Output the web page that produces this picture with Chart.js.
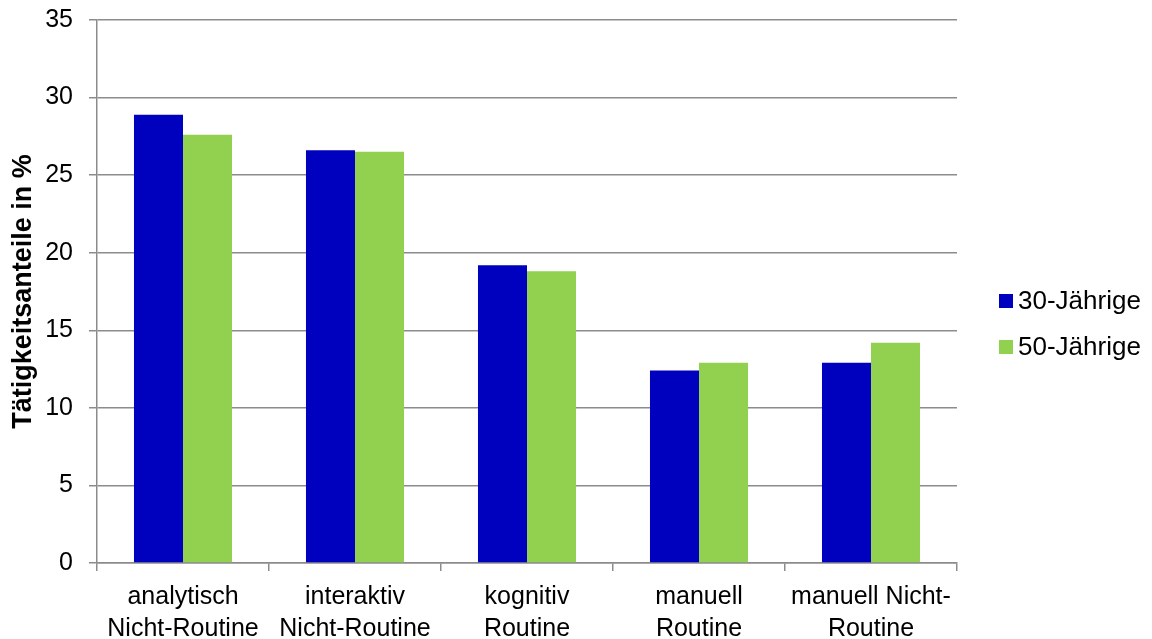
<!DOCTYPE html>
<html>
<head>
<meta charset="utf-8">
<script src="https://cdn.jsdelivr.net/npm/chart.js@4.4.0/dist/chart.umd.min.js"></script>
<style>
html,body{margin:0;padding:0;background:#fff;}
#wrap{width:1152px;height:639px;position:relative;}
</style>
</head>
<body>
<div id="wrap"><canvas id="c" width="1152" height="639"></canvas></div>
<script>
const categories = [
  ["analytisch", "Nicht-Routine"],
  ["interaktiv", "Nicht-Routine"],
  ["kognitiv", "Routine"],
  ["manuell", "Routine"],
  ["manuell Nicht-", "Routine"]
];
const seriesNames = ["30-Jährige", "50-Jährige"];
const values30 = [28.9, 26.6, 19.2, 12.4, 12.9];
const values50 = [27.6, 26.5, 18.8, 12.9, 14.2];
const yTicks = [0, 5, 10, 15, 20, 25, 30, 35];
const colors = ["#0000BF", "#92D050"];

const FONT = "'Liberation Sans', Arial, sans-serif";

const legendPlugin = {
  id: 'customLegend',
  afterDraw(chart) {
    const ctx = chart.ctx;
    ctx.save();
    ctx.font = "26px " + FONT;
    ctx.textBaseline = 'middle';
    chart.data.datasets.forEach((ds, i) => {
      const y = 301 + i * 46;
      ctx.fillStyle = ds.backgroundColor;
      ctx.fillRect(999, y - 7, 14, 14);
      ctx.fillStyle = '#000';
      ctx.fillText(ds.label, 1018, y + 1);
    });
    ctx.restore();
  }
};

new Chart(document.getElementById('c'), {
  type: 'bar',
  data: {
    labels: categories,
    datasets: [
      { label: seriesNames[0], data: values30, backgroundColor: colors[0], borderWidth: 0 },
      { label: seriesNames[1], data: values50, backgroundColor: colors[1], borderWidth: 0 }
    ]
  },
  options: {
    responsive: false,
    animation: false,
    devicePixelRatio: 1,
    layout: { padding: { top: 20, right: 195, left: 0, bottom: 0 } },
    plugins: { legend: { display: false }, tooltip: { enabled: false } },
    datasets: { bar: { categoryPercentage: 0.57, barPercentage: 1.0 } },
    scales: {
      x: {
        afterFit(scale) { scale.height = 76; scale.paddingLeft = 0; scale.paddingRight = 0; },
        grid: { drawOnChartArea: false, drawTicks: true, tickLength: 8, color: '#8c8c8c', lineWidth: 1.5, offset: true },
        border: { display: true, color: '#8c8c8c', width: 1.5 },
        ticks: { color: '#000', font: { family: FONT, size: 25, lineHeight: 1.28 }, padding: 10, maxRotation: 0, autoSkip: false }
      },
      y: {
        min: 0, max: 35,
        afterBuildTicks(scale) { scale.ticks = yTicks.map(v => ({ value: v })); },
        afterFit(scale) { scale.width = 97; scale.paddingTop = 0; scale.paddingBottom = 0; },
        grid: { color: '#8c8c8c', lineWidth: 1.5, tickLength: 8, drawTicks: true },
        border: { display: true, color: '#8c8c8c', width: 1.5 },
        ticks: { color: '#000', font: { family: FONT, size: 25 }, padding: 16 },
        title: { display: true, text: 'Tätigkeitsanteile in %', color: '#000', font: { family: FONT, size: 27, weight: 'bold' }, padding: { top: 7, bottom: 0 } }
      }
    }
  },
  plugins: [legendPlugin]
});
</script>
</body>
</html>
